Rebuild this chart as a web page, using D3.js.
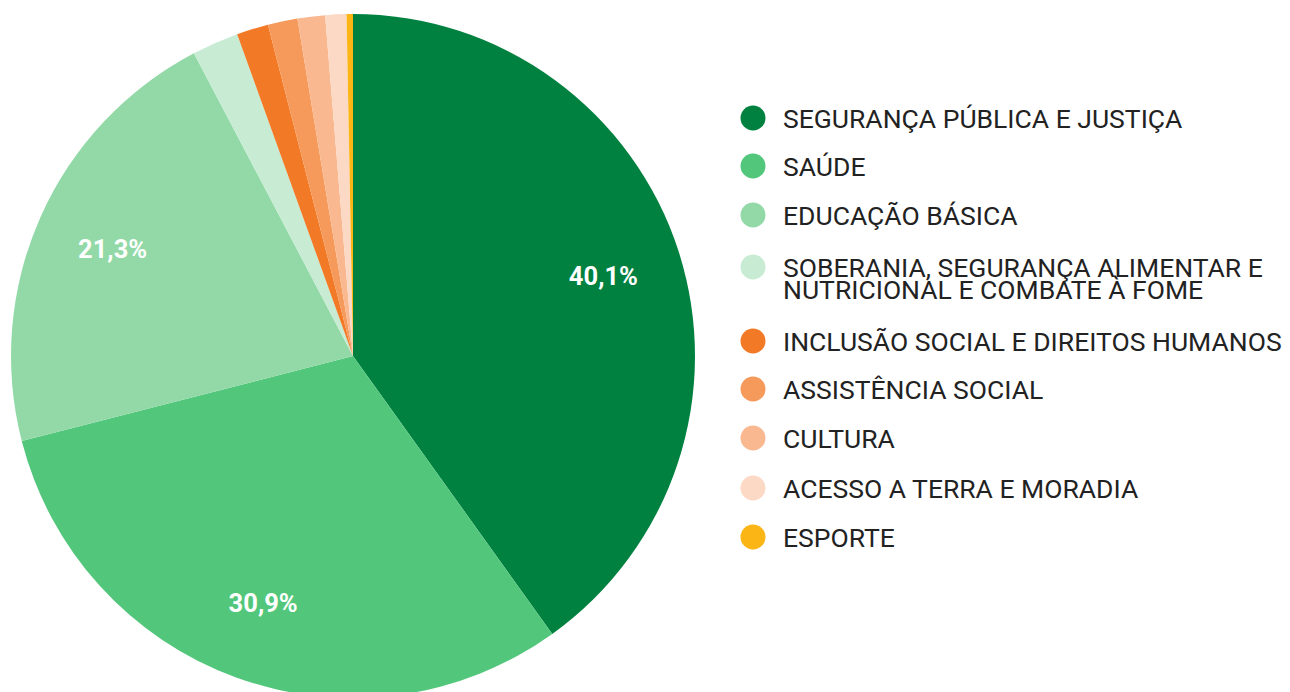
<!DOCTYPE html>
<html>
<head>
<meta charset="utf-8">
<script src="https://cdn.jsdelivr.net/npm/d3@7"></script>
<style>
  body { margin: 0; background: #fff; }
  svg { display: block; font-family: Roboto, sans-serif; }
</style>
</head>
<body>
<svg id="chart" width="1290" height="692"></svg>
<script>
// data
const categories = [
  'SEGURANÇA PÚBLICA E JUSTIÇA',
  'SAÚDE',
  'EDUCAÇÃO BÁSICA',
  'SOBERANIA, SEGURANÇA ALIMENTAR E\nNUTRICIONAL E COMBATE À FOME',
  'INCLUSÃO SOCIAL E DIREITOS HUMANOS',
  'ASSISTÊNCIA SOCIAL',
  'CULTURA',
  'ACESSO A TERRA E MORADIA',
  'ESPORTE'
];
const values = [40.1, 30.9, 21.3, 2.2, 1.5, 1.4, 1.3, 1.0, 0.3];
const colors = ['#00813f', '#52c77b', '#92d9a7', '#c8ecd3', '#f27a26', '#f69a5b', '#f9b88f', '#fcd9c4', '#fbb515'];

// layout
const cx = 353, cy = 356, radius = 342;
const labelRadius = 263;
const minLabel = 10;

const svg = d3.select('#chart');
const pie = d3.pie().sort(null).value(d => d.value);
const arc = d3.arc().innerRadius(0).outerRadius(radius);
const labelArc = d3.arc().innerRadius(labelRadius).outerRadius(labelRadius);
const color = d3.scaleOrdinal().domain(categories).range(colors);

const rows = categories.map((c, i) => ({name: c, value: values[i]}));
const arcs = pie(rows);

const g = svg.append('g').attr('transform', `translate(${cx},${cy})`);

g.selectAll('path')
  .data(arcs)
  .join('path')
  .attr('d', arc)
  .attr('fill', d => color(d.data.name));

g.selectAll('text.pct')
  .data(arcs.filter(d => d.data.value >= minLabel))
  .join('text')
  .attr('class', 'pct')
  .attr('transform', d => `translate(${labelArc.centroid(d)})`)
  .attr('text-anchor', 'middle')
  .attr('dy', '0.36em')
  .attr('fill', '#fff')
  .attr('font-weight', 700)
  .attr('font-size', 25.5)
  .text(d => d3.format('.1f')(d.data.value).replace('.', ',') + '%');

// legend
const legendY = [118, 166, 215, 267, 341, 389, 438, 488, 537];
const legend = svg.append('g').attr('transform', 'translate(753,0)');

const item = legend.selectAll('g')
  .data(categories)
  .join('g')
  .attr('transform', (d, i) => `translate(0,${legendY[i]})`);

item.append('circle')
  .attr('r', 12.5)
  .attr('fill', d => color(d));

item.append('text')
  .attr('x', 30)
  .attr('font-size', 26.5)
  .attr('fill', '#222')
  .each(function (d) {
    const lines = d.split('\n');
    const t = d3.select(this);
    lines.forEach((line, j) => {
      t.append('tspan')
        .attr('x', 30)
        .attr('y', j * 22)
        .attr('dy', '0.36em')
        .text(line);
    });
  });
</script>
</body>
</html>
